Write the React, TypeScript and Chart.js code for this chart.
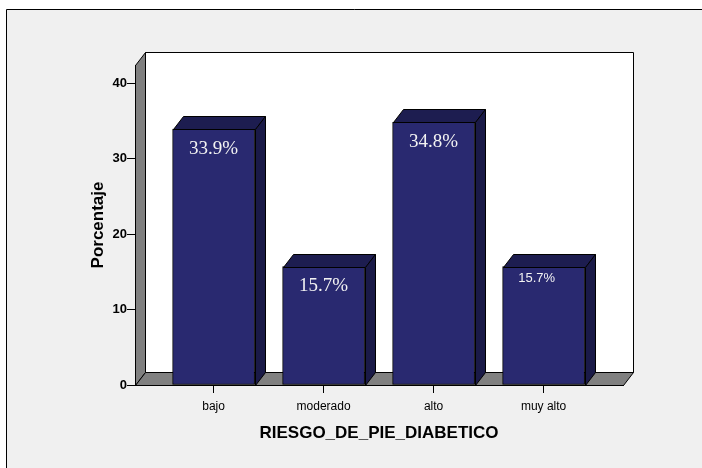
import React, { useEffect, useRef } from 'react';
import { Chart, registerables } from 'chart.js';

Chart.register(...registerables);

const categories = ['bajo', 'moderado', 'alto', 'muy alto'];
const porcentajes = [33.9, 15.7, 34.8, 15.7];
const etiquetas = ['33.9%', '15.7%', '34.8%', '15.7%'];
const yTicks = [0, 10, 20, 30, 40];
const xTitle = 'RIESGO_DE_PIE_DIABETICO';
const yTitle = 'Porcentaje';

const SANS = "'Liberation Sans', Arial, sans-serif";
const SERIF = "'Liberation Serif', 'Times New Roman', serif";
const DX = 10;
const DY = -13;
const FRONT = '#292970';
const TOPC = '#1d1d50';
const SIDEC = '#1a1a48';
const WALL = '#808080';
const FRAME = '#f0f0f0';
// label style per bar: serif for the first three, small sans for the last
const labelSerif = [true, true, true, false];

function poly(ctx: CanvasRenderingContext2D, pts: number[][], fill: string) {
  ctx.beginPath();
  pts.forEach(([x, y], i) => {
    const px = Math.round(x) + 0.5;
    const py = Math.round(y) + 0.5;
    if (i === 0) ctx.moveTo(px, py);
    else ctx.lineTo(px, py);
  });
  ctx.closePath();
  ctx.fillStyle = fill;
  ctx.fill();
  ctx.strokeStyle = '#000';
  ctx.lineWidth = 1;
  ctx.stroke();
}

const depthPlugin = {
  id: 'depth3d',
  beforeDraw(chart: any) {
    const { ctx, chartArea: a, width, height } = chart;
    ctx.save();
    ctx.fillStyle = '#ffffff';
    ctx.fillRect(0, 0, width, height);
    ctx.fillStyle = FRAME;
    ctx.fillRect(7, 9, width - 7, height - 9);
    ctx.strokeStyle = '#000';
    ctx.lineWidth = 1;
    ctx.beginPath();
    ctx.moveTo(6.5, height);
    ctx.lineTo(6.5, 9.5);
    ctx.lineTo(width, 9.5);
    ctx.stroke();
    const L = a.left, R = a.right, T = a.top, B = a.bottom;
    // back wall
    poly(ctx, [[L + DX, T + DY], [R + DX, T + DY], [R + DX, B + DY], [L + DX, B + DY]], '#ffffff');
    // left wall
    poly(ctx, [[L, T], [L + DX, T + DY], [L + DX, B + DY], [L, B]], WALL);
    // floor
    poly(ctx, [[L, B], [L + DX, B + DY], [R + DX, B + DY], [R, B]], WALL);
    ctx.restore();
  },
  afterDatasetsDraw(chart: any) {
    const { ctx } = chart;
    const meta = chart.getDatasetMeta(0);
    ctx.save();
    meta.data.forEach((bar: any, i: number) => {
      const { x, y, base, width } = bar.getProps(['x', 'y', 'base', 'width'], true);
      const l = x - width / 2;
      const r = x + width / 2;
      poly(ctx, [[l, y], [l + DX, y + DY], [r + DX, y + DY], [r, y]], TOPC);
      poly(ctx, [[r, y], [r + DX, y + DY], [r + DX, base + DY], [r, base]], SIDEC);
      ctx.fillStyle = '#f2f2f2';
      ctx.textAlign = 'center';
      ctx.textBaseline = 'middle';
      if (labelSerif[i]) {
        ctx.font = `19px ${SERIF}`;
        ctx.fillText(etiquetas[i], x, y + 20);
      } else {
        ctx.font = `13px ${SANS}`;
        ctx.fillText(etiquetas[i], x - 7, y + 12);
      }
    });
    ctx.restore();
  },
};

export default function App() {
  const ref = useRef<HTMLCanvasElement>(null);
  useEffect(() => {
    if (!ref.current) return;
    Chart.defaults.font.family = SANS;
    const chart = new Chart(ref.current, {
      type: 'bar',
      data: {
        datasets: [
          {
            data: porcentajes.map((v, i) => ({ x: i, y: v })),
            backgroundColor: FRONT,
            borderColor: '#000',
            borderWidth: 1,
            borderSkipped: false,
            barThickness: 82,
          } as any,
        ],
      },
      options: {
        animation: false,
        responsive: false,
        devicePixelRatio: 1,
        layout: { padding: { left: 88, right: 79, top: 65, bottom: 0 } },
        plugins: { legend: { display: false }, tooltip: { enabled: false } },
        scales: {
          x: {
            type: 'linear',
            offset: false,
            min: -0.7145,
            max: 3.7218,
            afterBuildTicks: (s: any) => {
              s.ticks = categories.map((_, i) => ({ value: i }));
            },
            afterFit: (s: any) => {
              s.height = 83;
            },
            grid: { display: true, offset: false, drawOnChartArea: false, drawTicks: true, tickLength: 8, color: '#000' },
            border: { display: true, color: '#000' },
            ticks: {
              autoSkip: false,
              maxRotation: 0,
              padding: 6,
              color: '#000',
              font: { size: 12, family: SANS },
              callback: (_v: any, i: number) => categories[i],
            },
            title: {
              display: true,
              text: xTitle,
              color: '#000',
              font: { size: 17, weight: 'bold', family: SANS },
              padding: { top: 0, bottom: 24 },
            },
          },
          y: {
            type: 'linear',
            min: 0,
            max: 42.4,
            afterBuildTicks: (s: any) => {
              s.ticks = yTicks.map((v) => ({ value: v }));
            },
            afterFit: (s: any) => {
              s.width = 47;
            },
            grid: { display: true, drawOnChartArea: false, drawTicks: true, tickLength: 8, color: '#000' },
            border: { display: true, color: '#000' },
            ticks: {
              padding: 0,
              color: '#000',
              font: { size: 13, weight: 'bold', family: SANS },
            },
            title: {
              display: true,
              text: yTitle,
              color: '#000',
              font: { size: 17, weight: 'bold', family: SANS },
              padding: { top: 0, bottom: 0 },
            },
          },
        },
      } as any,
      plugins: [depthPlugin],
    });
    return () => chart.destroy();
  }, []);
  return (
    <div style={{ position: 'fixed', left: 0, top: 0, width: 702, height: 468 }}>
      <canvas ref={ref} width={702} height={468} style={{ width: 702, height: 468, display: 'block' }} />
    </div>
  );
}
